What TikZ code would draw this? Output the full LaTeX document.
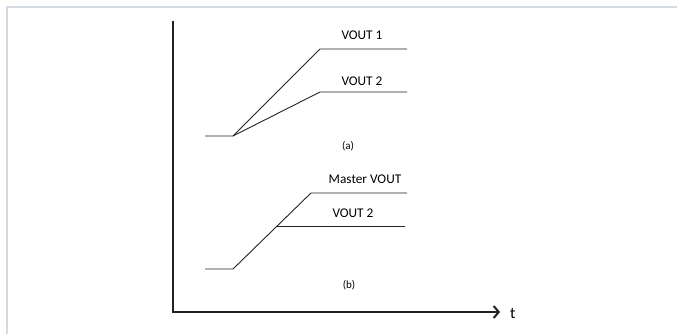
\documentclass[tikz,border=0pt]{standalone}
\usepackage{fontspec}
\setmainfont{Carlito}
\usetikzlibrary{arrows.meta,positioning}
\definecolor{framegray}{HTML}{D5DBE2}
\definecolor{inkdark}{HTML}{222222}

\begin{document}
\begin{tikzpicture}[x=1pt,y=-1pt,>={Straight Barb[length=5pt,width=12pt,line width=2pt]},
    axis/.style={line width=2pt,inkdark},
    sig/.style={line width=0.9pt,inkdark},
    lbl/.style={font=\fontsize{13.3}{15}\selectfont,inner sep=0pt}]
  \useasboundingbox (0,0) rectangle (677,334);
  % page frame
  \draw[framegray,line width=1.5pt] (7,334) -- (7,7) -- (677,7);

  % axes
  \coordinate (ytop) at (173,21);
  \coordinate (orig) at (173,312);
  \coordinate (xend) at (500,312);
  \draw[axis,->] (ytop) -- (orig) -- (xend);
  \node[font=\fontsize{16}{18}\selectfont,anchor=west,inner sep=0pt] (tlbl) at (510,313) {t};

  % (a)
  \coordinate (a0) at (205,136);
  \coordinate (a1) at (233,136);
  \coordinate (v1s) at (320,49);
  \coordinate (v1e) at (407,49);
  \coordinate (v2s) at (320,92);
  \coordinate (v2e) at (407,92);
  \draw[sig] (a0) -- (a1) -- (v1s) -- (v1e);
  \draw[sig] (a1) -- (v2s) -- (v2e);
  \node[lbl] (vout1) at (362,35) {VOUT 1};
  \node[lbl] (vout2a) at (362,81) {VOUT 2};
  \node[lbl,font=\fontsize{11}{13}\selectfont] (capa) at (348,146) {(a)};

  % (b)
  \coordinate (b0) at (205,269);
  \coordinate (b1) at (233,269);
  \coordinate (ms) at (311,193);
  \coordinate (me) at (407,193);
  \coordinate (ws) at (277,226);
  \coordinate (we) at (405,226);
  \draw[sig] (b0) -- (b1) -- (ms) -- (me);
  \draw[sig] (ws) -- (we);
  \node[lbl] (master) at (365,179) {Master VOUT};
  \node[lbl] (vout2b) at (353,213) {VOUT 2};
  \node[lbl,font=\fontsize{11}{13}\selectfont] (capb) at (349,285) {(b)};
\end{tikzpicture}
\end{document}
